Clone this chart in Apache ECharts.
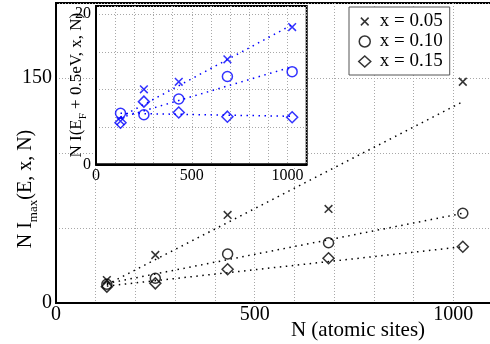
<!DOCTYPE html>
<html>
<head>
<meta charset="utf-8">
<script src="https://cdn.jsdelivr.net/npm/echarts@6/dist/echarts.min.js"></script>
<style>
  html, body { margin: 0; padding: 0; background: #fff; }
  #main { width: 490px; height: 344px; }
</style>
</head>
<body>
<div id="main"></div>
<script>
// system sizes N (atomic sites)
const sites = [128, 250, 432, 686, 1024];
const fitEnds = [128, 1024];

// main panel: N Imax(E, x, N)
const imax005 = [15.3, 32, 58.7, 62.7, 147.5];
const imax010 = [12.5, 16.5, 32.7, 40.2, 59.8];
const imax015 = [10.9, 13.1, 22.5, 29.8, 37.5];
const fitImax005 = [12.3, 134.2];
const fitImax010 = [13.0, 59.8];
const fitImax015 = [11.3, 37.5];

// inset: N I(EF + 0.5eV, x, N)
const iEf005 = [5.75, 10.0, 11.0, 14.0, 18.3];
const iEf010 = [6.8, 6.6, 8.7, 11.7, 12.35];
const iEf015 = [5.55, 8.35, 6.9, 6.35, 6.27];
const fitIEf005 = [6.3, 18.6];
const fitIEf010 = [6.2, 13.0];
const fitIEf015 = [6.8, 6.4];

const legendNames = ['x = 0.05', 'x = 0.10', 'x = 0.15'];
const mainXLabels = [0, 500, 1000];
const mainYLabels = [0, 150];
const insetXLabels = [0, 500, 1000];
const insetYLabels = [0, 20];

const serif = 'Liberation Serif';
const crossPath = 'path://M0,0M1.5,1.5L8.5,8.5M8.5,1.5L1.5,8.5M10,10';
const blue = '#0000ff';

const pts = (xs, ys) => xs.map((x, i) => [x, ys[i]]);
const only = list => v => (list.indexOf(v) >= 0 ? String(v) : '');

function marks(name, data, symbol, size, color, idx) {
  return {
    name: name, type: 'scatter', data: data,
    xAxisIndex: idx, yAxisIndex: idx,
    symbol: symbol, symbolSize: size,
    itemStyle: { color: 'rgba(0,0,0,0)', borderColor: color, borderWidth: 1.5 },
    z: 4
  };
}
function fit(name, data, color, idx) {
  return {
    name: name, type: 'line', data: data,
    xAxisIndex: idx, yAxisIndex: idx,
    showSymbol: false, symbol: 'none',
    lineStyle: { color: color, width: 1.5, type: [1.5, 4.5] },
    z: 3
  };
}

const gridLine = { show: true, lineStyle: { color: '#a8a8a8', width: 1, type: [1, 2] } };

const chart = echarts.init(document.getElementById('main'));
chart.setOption({
  animation: false,
  backgroundColor: '#fff',
  grid: [
    { left: 56, top: 3, width: 437, height: 300, show: true, borderColor: '#000', borderWidth: 2,
      containLabel: false, outerBoundsMode: 'none' },
    { left: 96, top: 6, width: 210.7, height: 158.3, show: true, backgroundColor: '#fff',
      borderColor: '#000', borderWidth: 2, z: 1, containLabel: false, outerBoundsMode: 'none' }
  ],
  legend: {
    data: legendNames,
    orient: 'vertical',
    left: 349, top: 7,
    padding: [5, 7, 4, 9],
    itemWidth: 12, itemHeight: 11, itemGap: 1,
    backgroundColor: '#fff',
    borderColor: '#555', borderWidth: 1,
    selectedMode: false,
    itemStyle: { color: 'rgba(0,0,0,0)', borderColor: '#000', borderWidth: 1.5 },
    textStyle: { fontFamily: serif, fontSize: 19, color: '#000', padding: [0, 0, 0, 4] },
    z: 5
  },
  xAxis: [
    {
      type: 'value', gridIndex: 0, min: 0, max: 1100, interval: 100,
      axisLine: { lineStyle: { color: '#000', width: 2 } },
      axisTick: { show: false },
      splitLine: gridLine,
      axisLabel: { formatter: only(mainXLabels), fontFamily: serif, fontSize: 20, color: '#000', margin: 2 },
      name: 'N (atomic sites)', nameLocation: 'middle', nameGap: 17, nameMoveOverlap: false,
      nameTextStyle: { fontFamily: serif, fontSize: 21, color: '#000', padding: [0, 0, 0, 167] }
    },
    {
      type: 'value', gridIndex: 1, min: 0, max: 1100, interval: 100, z: 1,
      axisLine: { lineStyle: { color: '#000', width: 2 } },
      axisTick: { show: false },
      splitLine: gridLine,
      axisLabel: { formatter: only(insetXLabels), fontFamily: serif, fontSize: 16, color: '#000', margin: 3 }
    }
  ],
  yAxis: [
    {
      type: 'value', gridIndex: 0, min: 0, max: 200, interval: 50,
      axisLine: { show: true, lineStyle: { color: '#000', width: 2 } },
      axisTick: { show: false },
      splitLine: gridLine,
      axisLabel: { formatter: only(mainYLabels), fontFamily: serif, fontSize: 20, color: '#000', margin: 4 },
      name: 'N I{s|max}(E, x, N)', nameLocation: 'middle', nameGap: 16, nameMoveOverlap: false,
      nameTextStyle: {
        fontFamily: serif, fontSize: 20, color: '#000', lineHeight: 28, padding: [0, 72, 0, 0],
        rich: { s: { fontFamily: serif, fontSize: 13, color: '#000', lineHeight: 13, verticalAlign: 'bottom' } }
      }
    },
    {
      type: 'value', gridIndex: 1, min: 0, max: 21.1, interval: 5, z: 1,
      axisLine: { show: true, lineStyle: { color: '#000', width: 2 } },
      axisTick: { show: false },
      splitLine: gridLine,
      axisLabel: { formatter: only(insetYLabels), fontFamily: serif, fontSize: 16, color: '#000', margin: 5 },
      name: 'N I(E{s|F} + 0.5eV, x, N)', nameLocation: 'middle', nameGap: 7, nameMoveOverlap: false,
      nameTextStyle: {
        fontFamily: serif, fontSize: 17, color: '#000', lineHeight: 24,
        rich: { s: { fontFamily: serif, fontSize: 11, color: '#000', lineHeight: 11, verticalAlign: 'bottom' } }
      }
    }
  ],
  series: [
    fit('fit 0.05', pts(fitEnds, fitImax005), '#000', 0),
    fit('fit 0.10', pts(fitEnds, fitImax010), '#000', 0),
    fit('fit 0.15', pts(fitEnds, fitImax015), '#000', 0),
    marks(legendNames[0], pts(sites, imax005), crossPath, 11, '#000', 0),
    marks(legendNames[1], pts(sites, imax010), 'circle', 10, '#000', 0),
    marks(legendNames[2], pts(sites, imax015), 'diamond', 11, '#000', 0),
    fit('inset fit 0.05', pts(fitEnds, fitIEf005), blue, 1),
    fit('inset fit 0.10', pts(fitEnds, fitIEf010), blue, 1),
    fit('inset fit 0.15', pts(fitEnds, fitIEf015), blue, 1),
    marks('inset 0.05', pts(sites, iEf005), crossPath, 11, blue, 1),
    marks('inset 0.10', pts(sites, iEf010), 'circle', 10, blue, 1),
    marks('inset 0.15', pts(sites, iEf015), 'diamond', 11, blue, 1)
  ]
});
</script>
</body>
</html>
